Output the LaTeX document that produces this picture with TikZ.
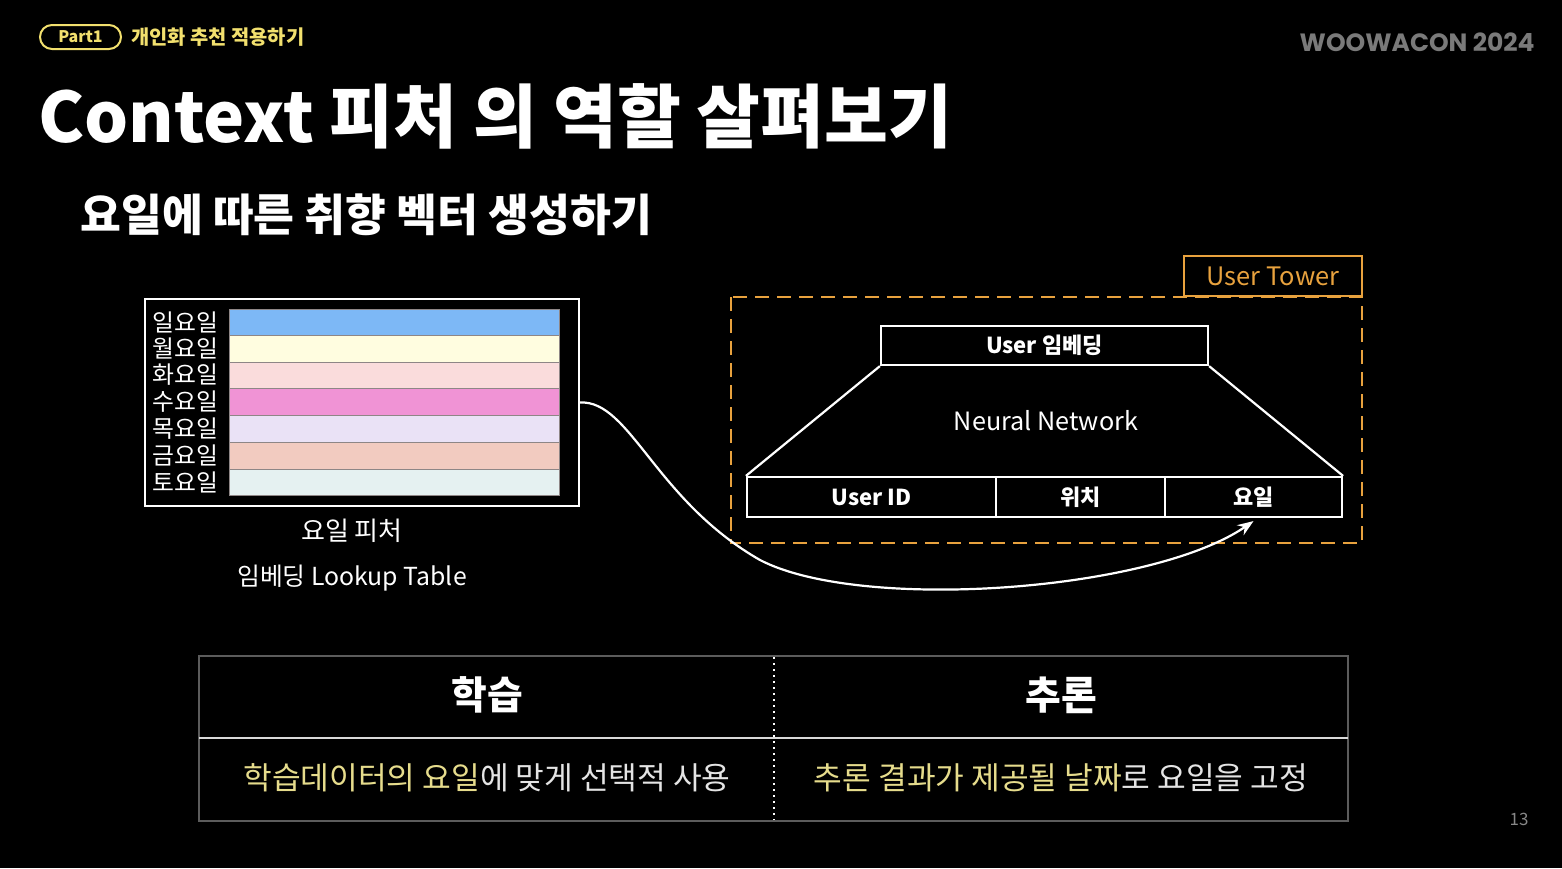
\documentclass[tikz,border=0pt]{standalone}
\usepackage{fontspec}
\setmainfont{Noto Sans CJK KR}
\newfontfamily\woofont{Poppins}
\usetikzlibrary{arrows.meta}
\definecolor{pillY}{HTML}{F2E06E}
\definecolor{towerO}{HTML}{E8A23E}
\definecolor{hlY}{HTML}{E6DC8C}
\definecolor{lightT}{HTML}{E4E4E4}
\definecolor{frameG}{HTML}{5C5C5C}
\definecolor{wooG}{HTML}{7A7A7A}
\definecolor{barLine}{HTML}{8E8686}
\definecolor{cSun}{HTML}{7DB8F6}
\definecolor{cMon}{HTML}{FFFDE0}
\definecolor{cTue}{HTML}{FADCDC}
\definecolor{cWed}{HTML}{F093D5}
\definecolor{cThu}{HTML}{EAE2F6}
\definecolor{cFri}{HTML}{F2CBC0}
\definecolor{cSat}{HTML}{E5F1F1}
\begin{document}
\begin{tikzpicture}[x=0.5pt,y=-0.5pt,
  txt/.style={text=white, inner sep=0pt},
  daylbl/.style={txt, anchor=west, font=\fontsize{11.9}{12}\selectfont},
  bar/.style={draw=barLine, line width=0.4pt},
  cell/.style={draw=white, line width=1.1pt, minimum height=20pt, text=white, inner sep=0pt, font=\bfseries\fontsize{11}{12}\selectfont},
  hdr/.style={txt, font=\bfseries\fontsize{19.4}{22}\selectfont},
  rowtxt/.style={inner sep=0pt, text=lightT, font=\fontsize{15.6}{18}\selectfont},
]
\useasboundingbox (0,0) rectangle (1562,868);
\fill[black] (0,0) rectangle (1562,868);

% header
\node[draw=pillY, line width=1pt, rounded corners=6pt, minimum width=40.5pt, minimum height=12pt, inner sep=0pt, text=pillY, font=\bfseries\fontsize{8}{9}\selectfont] (pill) at (80.5,37) {Part1};
\node[anchor=west, inner sep=0pt, text=pillY, font=\bfseries\fontsize{9.9}{11}\selectfont] (part) at (131,37) {개인화 추천 적용하기};
\node[anchor=east, inner sep=0pt, text=wooG, font=\woofont\bfseries\fontsize{12.5}{14}\selectfont] (woo) at (1535,42) {WOOWACON 2024};
\node[txt, anchor=west, font=\bfseries\fontsize{34.7}{40}\selectfont] (title) at (38,116) {Context 피처 의 역할 살펴보기};
\node[txt, anchor=west, font=\bfseries\fontsize{22.2}{26}\selectfont] (sub) at (80,215) {요일에 따른 취향 벡터 생성하기};

% lookup table
\node[draw=white, line width=1.1pt, minimum width=217pt, minimum height=103.5pt, inner sep=0pt] (tbl) at (362,402.5) {};
\filldraw[bar, fill=cSun] (229,309) rectangle (559,335);
\filldraw[bar, fill=cMon] (229,335) rectangle (559,362);
\filldraw[bar, fill=cTue] (229,362) rectangle (559,388);
\filldraw[bar, fill=cWed] (229,388) rectangle (559,415);
\filldraw[bar, fill=cThu] (229,415) rectangle (559,442);
\filldraw[bar, fill=cFri] (229,442) rectangle (559,469);
\filldraw[bar, fill=cSat] (229,469) rectangle (559,495);
\node[daylbl] (d1) at (152,322) {일요일};
\node[daylbl] (d2) at (152,348.5) {월요일};
\node[daylbl] (d3) at (152,375) {화요일};
\node[daylbl] (d4) at (152,401.5) {수요일};
\node[daylbl] (d5) at (152,428.5) {목요일};
\node[daylbl] (d6) at (152,455.5) {금요일};
\node[daylbl] (d7) at (152,482) {토요일};
\node[txt, font=\fontsize{13}{15}\selectfont] (feat) at (352,531) {요일 피처};
\node[txt, font=\fontsize{12.4}{14}\selectfont] (lut) at (352,578) {임베딩 Lookup Table};

% user tower
\draw[towerO, line width=1.1pt, dash pattern=on 7pt off 4pt] (731,297) rectangle (1362,543);
\node[draw=towerO, line width=1.1pt, fill=black, minimum width=89pt, minimum height=20pt, inner sep=0pt, text=towerO, font=\fontsize{12.7}{14}\selectfont] (tower) at (1273,276) {User Tower};
\node[cell, minimum width=163.5pt, minimum height=19.5pt] (emb) at (1044.5,345.5) {User 임베딩};
\node[cell, minimum width=124.5pt] (uid) at (871.5,497) {User ID};
\node[cell, minimum width=84.5pt] (loc) at (1080.5,497) {위치};
\node[cell, minimum width=88.5pt] (yoil) at (1253.5,497) {요일};
\draw[white, line width=1.1pt] (emb.south west) -- (uid.north west);
\draw[white, line width=1.1pt] (emb.south east) -- (yoil.north east);
\node[txt, font=\fontsize{12.6}{14}\selectfont] (nn) at (1046,421) {Neural Network};

% connector
\draw[white, line width=1.1pt, -{Stealth[length=8pt, width=6pt]}]
  (tbl.east) .. controls (630,400) and (655,500) .. (760,560)
  .. controls (860,612) and (1150,592) .. ([yshift=-1.5pt]yoil.south);

% bottom table
\draw[frameG, line width=1.1pt] (199,656) rectangle (1348,821);
\draw[white!85!black, line width=1.3pt] (199,738) -- (1348,738);
\draw[white, line width=1pt, dotted] (774,657) -- (774,820);
\node[hdr] (learn) at (487,695) {학습};
\node[hdr] (infer) at (1061,695) {추론};
\node[rowtxt] (lrow) at (487,778) {{\color{hlY}학습데이터의 요일}에 맞게 선택적 사용};
\node[rowtxt] (irow) at (1061,778) {{\color{hlY}추론 결과가 제공될 날짜}로 요일을 고정};

\node[inner sep=0pt, text=wooG!90!white, font=\fontsize{8.5}{10}\selectfont] (pg) at (1519,819) {13};
\end{tikzpicture}
\end{document}
